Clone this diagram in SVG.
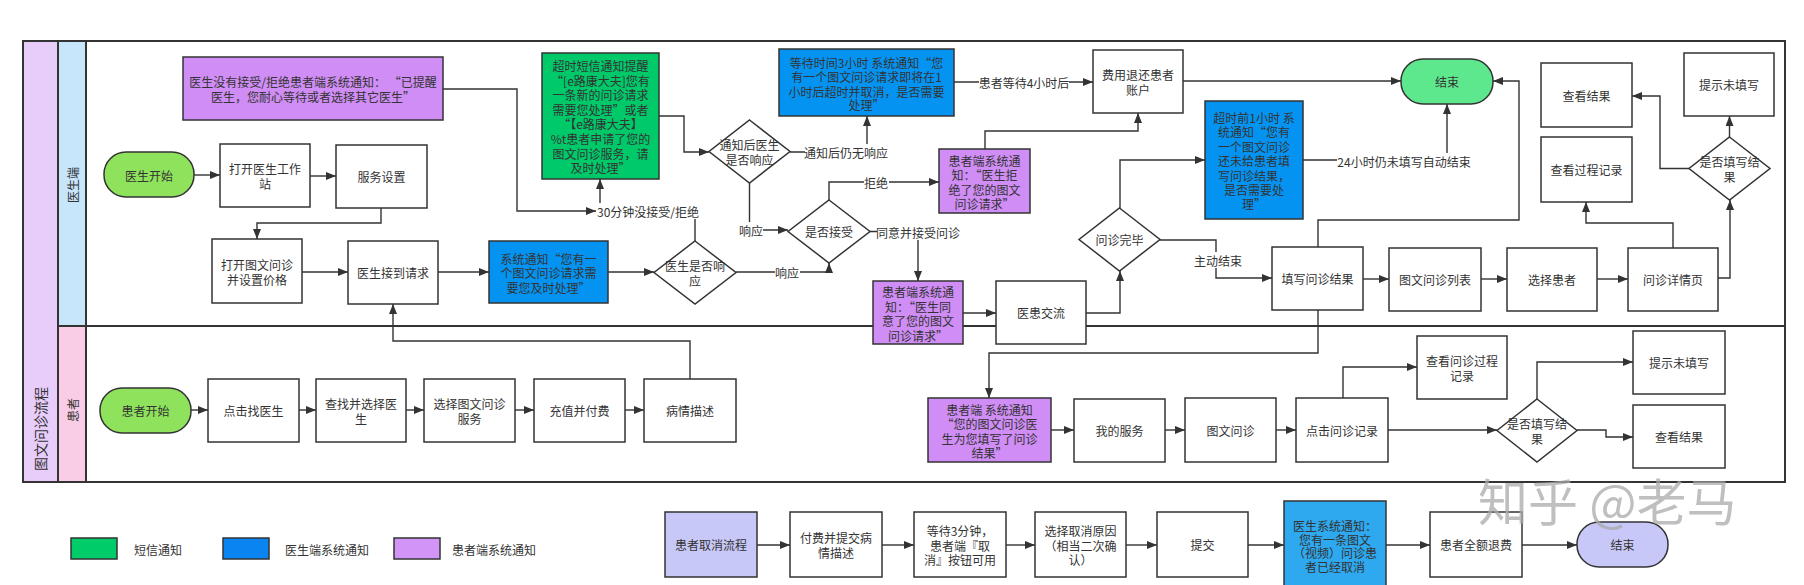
<svg xmlns="http://www.w3.org/2000/svg" width="1804" height="585" viewBox="0 0 1804 585">
<defs>
<marker id="ar" viewBox="0 0 10 8" refX="10" refY="4" markerWidth="10" markerHeight="8" orient="auto" markerUnits="userSpaceOnUse"><path d="M0,0 L10,4 L0,8 z" fill="#333"/></marker>
<style>
text,tspan{font-family:"Noto Sans CJK SC","Noto Sans",sans-serif;font-size:12px;fill:#333;dominant-baseline:central}
.t{text-anchor:middle}
.n{stroke:#333;stroke-width:1.5}
.box{fill:#fff}
.pur{fill:#CF8DF5}
.blu{fill:#0593F2}
.grn{fill:#00C96A}
.lime{fill:#8FE35C}
.mint{fill:#5EE88E}
.lav{fill:#C8C8F8}
.cb{fill:#2EA8EE}
.c path{fill:none;stroke:#333;stroke-width:1.4;marker-end:url(#ar)}
.lb rect{fill:#fff}
.wm{font-size:50px;fill:#aaa;opacity:0.75}
</style>
</defs>
<rect width="1804" height="585" fill="#fff"/>

<g id="pool">
<rect x="23" y="41" width="35" height="441" fill="#E8CCF9"/>
<rect x="58" y="41" width="28" height="285" fill="#C7E5FB"/>
<rect x="58" y="326" width="28" height="156" fill="#F8CDE5"/>
<rect x="23" y="41" width="1762" height="441" fill="none" stroke="#333" stroke-width="2"/>
<path d="M58,41 V482 M86,41 V482 M58,326 H1785" stroke="#333" stroke-width="2" fill="none"/>
<text class="t" transform="translate(40,429) rotate(-90)" style="font-size:14px">图文问诊流程</text>
<text class="t" transform="translate(72,185) rotate(-90)">医生端</text>
<text class="t" transform="translate(72,410) rotate(-90)">患者</text>
</g>

<g id="connectors" class="c">
<path d="M194,175 H220"/>
<path d="M310,176 H336"/>
<path d="M381,208 V223 H257 V239"/>
<path d="M302,272 H348"/>
<path d="M438,272 H489"/>
<path d="M608,272 H654"/>
<path d="M736,272 H829 V263"/>
<path d="M695,241 V211 H600 V179"/>
<path d="M443,89 H517 V211 H596"/>
<path d="M659,116 H684 V152 H709"/>
<path d="M790,152 H867 V116"/>
<path d="M749.5,183 V230 H788"/>
<path d="M829,200 V182 H939"/>
<path d="M870,231.5 H918 V281"/>
<path d="M954,82 H1093"/>
<path d="M985,149 V131 H1138 V113"/>
<path d="M1183,81 H1401"/>
<path d="M963,313 H996"/>
<path d="M1086,313 H1120 V271"/>
<path d="M1120,208 V160 H1205"/>
<path d="M1160,240 H1216 V278 H1272"/>
<path d="M1303,160 H1447 V104"/>
<path d="M1318,247 V220 H1519 V81 H1493"/>
<path d="M1363,279 H1389"/>
<path d="M1481,279 H1507"/>
<path d="M1597,279 H1628"/>
<path d="M1718,278 H1730 V200"/>
<path d="M1673,248 V223 H1586 V202"/>
<path d="M1729.5,137 V116"/>
<path d="M1689,168.5 H1660 V96 H1632"/>
<path d="M1318,310 V353 H989 V398"/>
<path d="M690,379 V341 H393 V304"/>
<path d="M191,410 H208"/>
<path d="M299,410 H316"/>
<path d="M406,410 H424"/>
<path d="M515,410 H534"/>
<path d="M625,410 H644"/>
<path d="M1051,430 H1074"/>
<path d="M1165,430 H1185"/>
<path d="M1276,430 H1296"/>
<path d="M1388,430 H1497"/>
<path d="M1343,398 V367 H1417"/>
<path d="M1537,399 V362 H1633"/>
<path d="M1577,430 H1606 V437 H1633"/>
<path d="M757,545 H790"/>
<path d="M882,545 H914"/>
<path d="M1006,545 H1035"/>
<path d="M1126,545 H1157"/>
<path d="M1248,545 H1284"/>
<path d="M1386,545 H1430"/>
<path d="M1522,545 H1577"/>
<g class="lb">
<rect x="775" y="264" width="25" height="16"/><text class="t" x="787" y="272">响应</text>
<rect x="598" y="203" width="101" height="16"/><text class="t" x="648" y="211">30分钟没接受/拒绝</text>
<rect x="805" y="144" width="83" height="16"/><text class="t" x="846" y="152">通知后仍无响应</text>
<rect x="739" y="222" width="24" height="16"/><text class="t" x="751" y="230">响应</text>
<rect x="864" y="174" width="25" height="16"/><text class="t" x="876" y="182">拒绝</text>
<rect x="877" y="224" width="83" height="16"/><text class="t" x="918" y="232">同意并接受问诊</text>
<rect x="979" y="74" width="90" height="16"/><text class="t" x="1024" y="82">患者等待4小时后</text>
<rect x="1193" y="252" width="50" height="16"/><text class="t" x="1218" y="260">主动结束</text>
<rect x="1337" y="153" width="134" height="16"/><text class="t" x="1404" y="161">24小时仍未填写自动结束</text>
</g>
</g>

<g id="note-remind"><rect class="n pur" x="183" y="57" width="260" height="63"/><text class="t"><tspan x="313" y="81">医生没有接受/拒绝患者端系统通知：  “已提醒</tspan><tspan x="313" y="96">医生，您耐心等待或者选择其它医生”</tspan></text></g>
<g id="doc-start"><rect class="n lime" x="104" y="152" width="90" height="45" rx="22"/><text class="t" x="149" y="175">医生开始</text></g>
<g id="open-workstation"><rect class="n box" x="220" y="144" width="90" height="63"/><text class="t"><tspan x="265" y="168">打开医生工作</tspan><tspan x="265" y="183">站</tspan></text></g>
<g id="service-setting"><rect class="n box" x="336" y="145" width="91" height="63"/><text class="t" x="381.5" y="176.5">服务设置</text></g>
<g id="open-tw"><rect class="n box" x="212" y="239" width="90" height="64"/><text class="t"><tspan x="257" y="264">打开图文问诊</tspan><tspan x="257" y="279">并设置价格</tspan></text></g>
<g id="receive"><rect class="n box" x="348" y="241" width="90" height="63"/><text class="t" x="393" y="272.5">医生接到请求</text></g>
<g id="sys-notify"><rect class="n blu" x="489" y="241" width="119" height="62"/><text class="t"><tspan x="548.5" y="257.5">系统通知“您有一</tspan><tspan x="548.5" y="272">个图文问诊请求需</tspan><tspan x="548.5" y="286.5">要您及时处理”</tspan></text></g>
<g id="resp-diamond"><path class="n box" d="M695,241 L736,272.5 L695,304 L654,272.5 Z"/><text class="t"><tspan x="695" y="265">医生是否响</tspan><tspan x="695" y="280">应</tspan></text></g>
<g id="sms"><rect class="n grn" x="542" y="53" width="117" height="126"/><text class="t"><tspan x="600.5" y="65">超时短信通知提醒</tspan><tspan x="600.5" y="79.6">“[e路康大夫]您有</tspan><tspan x="600.5" y="94.2">一条新的问诊请求</tspan><tspan x="600.5" y="108.8">需要您处理”或者</tspan><tspan x="600.5" y="123.4">“【e路康大夫】</tspan><tspan x="600.5" y="138">%t患者申请了您的</tspan><tspan x="600.5" y="152.6">图文问诊服务，请</tspan><tspan x="600.5" y="167.2">及时处理”</tspan></text></g>
<g id="notify-diamond"><path class="n box" d="M749.5,120 L790,151.5 L749.5,183 L709,151.5 Z"/><text class="t"><tspan x="749.5" y="144">通知后医生</tspan><tspan x="749.5" y="159">是否响应</tspan></text></g>
<g id="wait-3h"><rect class="n blu" x="779" y="49" width="175" height="67"/><text class="t"><tspan x="866.5" y="62">等待时间3小时 系统通知“您</tspan><tspan x="866.5" y="76">有一个图文问诊请求即将在1</tspan><tspan x="866.5" y="90.5">小时后超时并取消，是否需要</tspan><tspan x="866.5" y="104">处理”</tspan></text></g>
<g id="accept-diamond"><path class="n box" d="M829,200 L870,231.5 L829,263 L788,231.5 Z"/><text class="t" x="829" y="231.5">是否接受</text></g>
<g id="reject-notify"><rect class="n pur" x="939" y="149" width="91" height="64"/><text class="t"><tspan x="984.5" y="159.5">患者端系统通</tspan><tspan x="984.5" y="174">知：“医生拒</tspan><tspan x="984.5" y="188.5">绝了您的图文</tspan><tspan x="984.5" y="203">问诊请求”</tspan></text></g>
<g id="refund"><rect class="n box" x="1093" y="50" width="90" height="63"/><text class="t"><tspan x="1138" y="74">费用退还患者</tspan><tspan x="1138" y="89">账户</tspan></text></g>
<g id="agree-notify"><rect class="n pur" x="873" y="281" width="90" height="63"/><text class="t"><tspan x="918" y="291">患者端系统通</tspan><tspan x="918" y="305.5">知：“医生同</tspan><tspan x="918" y="320">意了您的图文</tspan><tspan x="918" y="334.5">问诊请求”</tspan></text></g>
<g id="chat"><rect class="n box" x="996" y="281" width="90" height="63"/><text class="t" x="1041" y="312.5">医患交流</text></g>
<g id="done-diamond"><path class="n box" d="M1119.5,208 L1160,239.5 L1119.5,271 L1079,239.5 Z"/><text class="t" x="1119.5" y="239.5">问诊完毕</text></g>
<g id="remind-1h"><rect class="n blu" x="1205" y="101" width="98" height="118"/><text class="t"><tspan x="1254" y="117">超时前1小时 系</tspan><tspan x="1254" y="131.4">统通知“您有</tspan><tspan x="1254" y="145.8">一个图文问诊</tspan><tspan x="1254" y="160.2">还未给患者填</tspan><tspan x="1254" y="174.6">写问诊结果，</tspan><tspan x="1254" y="189">是否需要处</tspan><tspan x="1254" y="203.4">理”</tspan></text></g>
<g id="doc-end"><rect class="n mint" x="1401" y="59" width="92" height="45" rx="22"/><text class="t" x="1447" y="81.5">结束</text></g>
<g id="fill-result"><rect class="n box" x="1272" y="247" width="91" height="63"/><text class="t" x="1317.5" y="278.5">填写问诊结果</text></g>
<g id="tw-list"><rect class="n box" x="1389" y="248" width="92" height="63"/><text class="t" x="1435" y="279.5">图文问诊列表</text></g>
<g id="select-patient"><rect class="n box" x="1507" y="248" width="90" height="63"/><text class="t" x="1552" y="279.5">选择患者</text></g>
<g id="detail"><rect class="n box" x="1628" y="248" width="90" height="63"/><text class="t" x="1673" y="279.5">问诊详情页</text></g>
<g id="doc-view-result"><rect class="n box" x="1541" y="63" width="91" height="64"/><text class="t" x="1586.5" y="95">查看结果</text></g>
<g id="doc-view-process"><rect class="n box" x="1541" y="137" width="91" height="65"/><text class="t" x="1586.5" y="169.5">查看过程记录</text></g>
<g id="doc-prompt"><rect class="n box" x="1684" y="53" width="90" height="63"/><text class="t" x="1729" y="84.5">提示未填写</text></g>
<g id="doc-fill-diamond"><path class="n box" d="M1729.5,137 L1770,168.5 L1729.5,200 L1689,168.5 Z"/><text class="t"><tspan x="1729.5" y="161">是否填写结</tspan><tspan x="1729.5" y="176">果</tspan></text></g>

<g id="pat-start"><rect class="n lime" x="100" y="388" width="91" height="45" rx="22"/><text class="t" x="145.5" y="410.5">患者开始</text></g>
<g id="click-doctor"><rect class="n box" x="208" y="379" width="91" height="63"/><text class="t" x="253.5" y="410.5">点击找医生</text></g>
<g id="find-doctor"><rect class="n box" x="316" y="379" width="90" height="63"/><text class="t"><tspan x="361" y="403">查找并选择医</tspan><tspan x="361" y="418">生</tspan></text></g>
<g id="select-service"><rect class="n box" x="424" y="379" width="91" height="63"/><text class="t"><tspan x="469.5" y="403">选择图文问诊</tspan><tspan x="469.5" y="418">服务</tspan></text></g>
<g id="pay"><rect class="n box" x="534" y="379" width="91" height="63"/><text class="t" x="579.5" y="410.5">充值并付费</text></g>
<g id="describe"><rect class="n box" x="644" y="379" width="92" height="63"/><text class="t" x="690" y="410.5">病情描述</text></g>
<g id="result-notify"><rect class="n pur" x="928" y="398" width="123" height="64"/><text class="t"><tspan x="989.5" y="408.5">患者端 系统通知</tspan><tspan x="989.5" y="423">“您的图文问诊医</tspan><tspan x="989.5" y="437.5">生为您填写了问诊</tspan><tspan x="989.5" y="452">结果”</tspan></text></g>
<g id="my-service"><rect class="n box" x="1074" y="399" width="91" height="63"/><text class="t" x="1119.5" y="430.5">我的服务</text></g>
<g id="pat-tw"><rect class="n box" x="1185" y="398" width="91" height="64"/><text class="t" x="1230.5" y="430">图文问诊</text></g>
<g id="click-record"><rect class="n box" x="1296" y="398" width="92" height="64"/><text class="t" x="1342" y="430">点击问诊记录</text></g>
<g id="pat-view-process"><rect class="n box" x="1417" y="336" width="90" height="63"/><text class="t"><tspan x="1462" y="360">查看问诊过程</tspan><tspan x="1462" y="375">记录</tspan></text></g>
<g id="pat-fill-diamond"><path class="n box" d="M1537,399 L1577,430.5 L1537,462 L1497,430.5 Z"/><text class="t"><tspan x="1537" y="423">是否填写结</tspan><tspan x="1537" y="438">果</tspan></text></g>
<g id="pat-prompt"><rect class="n box" x="1633" y="331" width="92" height="63"/><text class="t" x="1679" y="362.5">提示未填写</text></g>
<g id="pat-view-result"><rect class="n box" x="1633" y="405" width="92" height="63"/><text class="t" x="1679" y="436.5">查看结果</text></g>

<g id="cancel-start"><rect class="n lav" x="665" y="512" width="92" height="65"/><text class="t" x="711" y="544.5">患者取消流程</text></g>
<g id="pay-submit"><rect class="n box" x="790" y="512" width="92" height="65"/><text class="t"><tspan x="836" y="537">付费并提交病</tspan><tspan x="836" y="552">情描述</tspan></text></g>
<g id="wait-3min"><rect class="n box" x="914" y="512" width="92" height="65"/><text class="t"><tspan x="960" y="530">等待3分钟，</tspan><tspan x="960" y="544.5">患者端『取</tspan><tspan x="960" y="559">消』按钮可用</tspan></text></g>
<g id="reason"><rect class="n box" x="1035" y="512" width="91" height="65"/><text class="t"><tspan x="1080.5" y="530">选择取消原因</tspan><tspan x="1080.5" y="544.5">（相当二次确</tspan><tspan x="1080.5" y="559">认）</tspan></text></g>
<g id="submit"><rect class="n box" x="1157" y="512" width="91" height="65"/><text class="t" x="1202.5" y="544.5">提交</text></g>
<g id="cancel-notify"><rect class="n cb" x="1284" y="501" width="102" height="92"/><text class="t"><tspan x="1335" y="525">医生系统通知：</tspan><tspan x="1335" y="538.5">您有一条图文</tspan><tspan x="1335" y="552">（视频）问诊患</tspan><tspan x="1335" y="565.5">者已经取消</tspan></text></g>
<g id="refund-all"><rect class="n box" x="1430" y="512" width="92" height="65"/><text class="t" x="1476" y="544.5">患者全额退费</text></g>
<g id="cancel-end"><rect class="n lav" x="1577" y="522" width="91" height="45" rx="22"/><text class="t" x="1622.5" y="544.5">结束</text></g>

<g id="legend">
<rect class="n" x="71" y="538" width="46" height="21" fill="#00CC6A"/><text x="134" y="549">短信通知</text>
<rect class="n" x="223" y="538" width="46" height="21" fill="#0A84F0"/><text x="285" y="549">医生端系统通知</text>
<rect class="n" x="394" y="538" width="46" height="21" fill="#D294F7"/><text x="452" y="549">患者端系统通知</text>
</g>

<text class="wm" x="1478" y="499">知乎 @老马</text>
</svg>
